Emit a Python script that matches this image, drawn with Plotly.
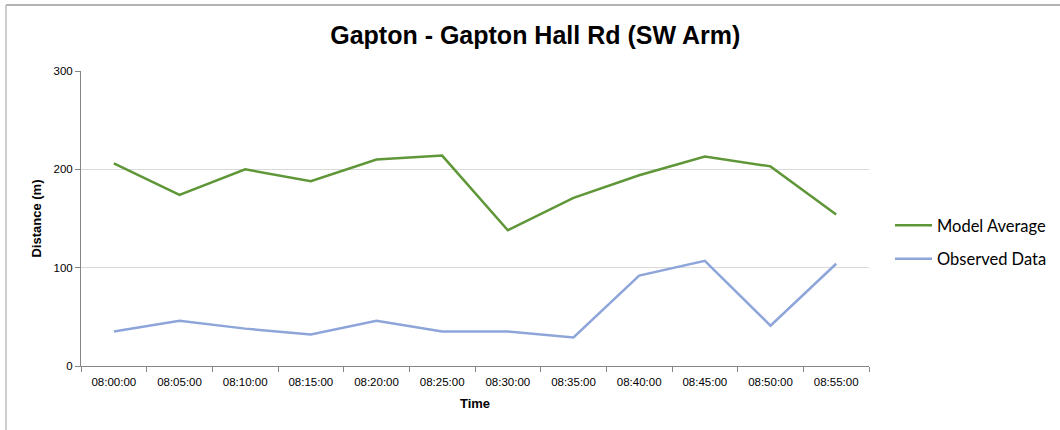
import plotly.graph_objects as go

times = ["08:00:00", "08:05:00", "08:10:00", "08:15:00", "08:20:00", "08:25:00",
         "08:30:00", "08:35:00", "08:40:00", "08:45:00", "08:50:00", "08:55:00"]
model_average = [206, 174, 200, 188, 210, 214, 138, 171, 194, 213, 203, 154]
observed_data = [35, 46, 38, 32, 46, 35, 35, 29, 92, 107, 41, 104]

W, H = 1060, 430
L, R, T, B = 81, 869, 71, 366

fig = go.Figure()
fig.add_trace(go.Scatter(x=times, y=model_average, mode="lines", name="Model Average",
                         legendgroup="a", line=dict(color="#5F9638", width=2.5)))
fig.add_trace(go.Scatter(x=times, y=observed_data, mode="lines", name="Observed Data",
                         legendgroup="b", line=dict(color="#8EA5DA", width=2.5)))

def px_x(p):
    return (p - L) / (R - L)

def px_y(p):
    return (B - p) / (B - T)

fig.add_shape(type="line", xref="paper", yref="paper", x0=px_x(6), x1=px_x(1060),
              y0=px_y(5), y1=px_y(5), line=dict(color="#9A9A9A", width=1.5))
fig.add_shape(type="line", xref="paper", yref="paper", x0=px_x(6), x1=px_x(6),
              y0=px_y(5), y1=px_y(430), line=dict(color="#BDBDBD", width=1.5))

fig.update_layout(
    width=W, height=H,
    margin=dict(l=L, r=W - R, t=T, b=H - B, autoexpand=False),
    paper_bgcolor="white", plot_bgcolor="white",
    title=dict(text="<b>Gapton - Gapton Hall Rd (SW Arm)</b>", x=0.505, xanchor="center",
               y=1 - 35 / H, yanchor="middle",
               font=dict(family="Liberation Sans, Arial", size=25, color="black")),
    xaxis=dict(type="category", range=[-0.5, len(times) - 0.5], tickson="boundaries",
               ticks="outside", ticklen=5, ticklabelstandoff=5,
               tickcolor="#868686", showline=True, linecolor="#868686", linewidth=1,
               showgrid=False, tickfont=dict(family="Liberation Sans, Arial", size=11.5, color="black"),
               title=dict(text="<b>Time</b>", standoff=12,
                          font=dict(family="Liberation Sans, Arial", size=13, color="black"))),
    yaxis=dict(range=[0, 300], dtick=100, ticks="outside", ticklen=5, tickcolor="#868686",
               showline=True, linecolor="#868686", linewidth=1, showgrid=True,
               gridcolor="#D9D9D9", zeroline=False,
               tickfont=dict(family="Liberation Sans, Arial", size=11.5, color="black"),
               title=dict(text="<b>Distance (m)</b>", standoff=8,
                          font=dict(family="Liberation Sans, Arial", size=13, color="black"))),
    legend=dict(x=px_x(890), y=px_y(208), xanchor="left", yanchor="top",
                traceorder="grouped", tracegroupgap=9,
                font=dict(family="Lato, Carlito, sans-serif", size=16.5, color="black"),
                itemwidth=37, bgcolor="rgba(0,0,0,0)"),
    showlegend=True,
)

fig.write_html("out.html", config={"displayModeBar": False},
               post_script="document.body.style.margin='0px';document.body.style.overflow='hidden';")
